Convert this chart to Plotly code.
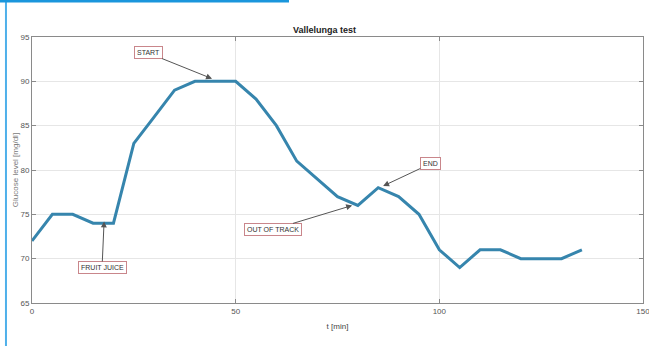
import plotly.graph_objects as go

t_min = [0, 5, 10, 15, 20, 25, 30, 35, 40, 45, 50, 55, 60, 65, 70, 75, 80, 85, 90, 95, 100, 105, 110, 115, 120, 125, 130, 135]
glucose = [72, 75, 75, 74, 74, 83, 86, 89, 90, 90, 90, 88, 85, 81, 79, 77, 76, 78, 77, 75, 71, 69, 71, 71, 70, 70, 70, 71]

labels = ["START", "FRUIT JUICE", "OUT OF TRACK", "END"]
label_tip_t = [44.2, 17.7, 78.6, 86.2]
label_tip_v = [90.3, 74.2, 76.0, 78.2]
label_box_t = [28.5, 17.2, 59.2, 97.8]
label_box_v = [93.2, 69.0, 73.3, 80.7]

x_ticks = [0, 50, 100, 150]
y_ticks = [65, 70, 75, 80, 85, 90, 95]

fig = go.Figure()
fig.add_trace(go.Scatter(x=t_min, y=glucose, mode="lines",
                         line=dict(color="#3685ad", width=3), showlegend=False))

for txt, tx, ty, bx, by in zip(labels, label_tip_t, label_tip_v, label_box_t, label_box_v):
    fig.add_annotation(x=tx, y=ty, ax=bx, ay=by, xref="x", yref="y", axref="x", ayref="y",
                       text=txt, showarrow=True, arrowhead=2, arrowsize=1.2, arrowwidth=1,
                       arrowcolor="#555555", font=dict(size=7, color="#333333", family="Liberation Sans"),
                       bgcolor="white", bordercolor="#c9868b", borderwidth=1, borderpad=2)

axis_common = dict(showline=True, mirror="ticks", linecolor="#8a8a8a", linewidth=1,
                   ticks="inside", ticklen=4, tickcolor="#8a8a8a", automargin=False,
                   showgrid=True, gridcolor="#e6e6e6", gridwidth=1, zeroline=False,
                   ticklabeloverflow="allow",
                   tickfont=dict(size=8, color="#555555", family="Liberation Sans"))

fig.update_xaxes(range=[0, 150], tickvals=x_ticks, **axis_common,
                 title=dict(text="t [min]", font=dict(size=8, color="#444444"), standoff=8))
fig.update_yaxes(range=[65, 95], tickvals=y_ticks, **axis_common,
                 title=dict(text="Glucose level [mg/dl]", font=dict(size=8, color="#7a7a7a"), standoff=0))

# blue screenshot frame
fig.add_shape(type="line", xref="paper", yref="paper", x0=-0.0426, x1=-0.0426, y0=1.14, y1=-0.17,
              line=dict(color="#4fb0ea", width=2))
fig.add_shape(type="rect", xref="paper", yref="paper", x0=-0.06, x1=0.4206, y0=1.130, y1=1.15,
              line=dict(width=0), fillcolor="#1a96dc")

fig.update_layout(width=649, height=346, margin=dict(l=32, r=6, t=37, b=43, autoexpand=False),
                  paper_bgcolor="white", plot_bgcolor="white",
                  font=dict(family="Liberation Sans"),
                  title=dict(text="<b>Vallelunga test</b>", x=0.5, xanchor="center", y=0.915, yanchor="middle",
                             font=dict(size=9, color="#222222")))

fig.write_html("out.html", config={"displayModeBar": False},
               post_script="document.body.style.margin='0';document.body.style.overflow='hidden';")
